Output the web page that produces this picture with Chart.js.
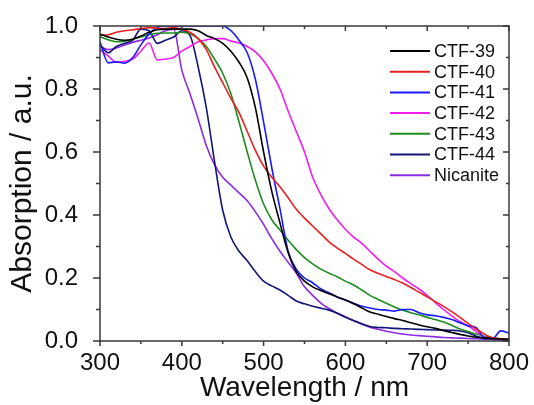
<!DOCTYPE html>
<html>
<head>
<meta charset="utf-8">
<script src="https://cdn.jsdelivr.net/npm/chart.js@4.4.1/dist/chart.umd.min.js"></script>
<style>
  html, body { margin: 0; padding: 0; background: #fff; }
  #wrap { width: 534px; height: 405px; }
</style>
</head>
<body>
<div id="wrap"><canvas id="absChart" width="534" height="405"></canvas></div>
<script>
// Wavelength grid (nm) shared by all spectra
const wavelength = [
    300, 310, 320, 330, 340, 350, 360, 370, 380, 390,
    400, 410, 420, 430, 440, 450, 460, 470, 480, 490,
    500, 510, 520, 530, 540, 550, 560, 570, 580, 590,
    600, 610, 620, 630, 640, 650, 660, 670, 680, 690,
    700, 710, 720, 730, 740, 750, 760, 770, 780, 790,
    800
];

// Absorption values
const ctf39 = [
    0.975, 0.965, 0.958, 0.955, 0.958, 0.968, 0.980, 0.988, 0.990, 0.990,
    0.990, 0.990, 0.985, 0.970, 0.960, 0.945, 0.920, 0.885, 0.835, 0.740,
    0.600, 0.475, 0.375, 0.280, 0.220, 0.190, 0.172, 0.160, 0.150, 0.140,
    0.130, 0.118, 0.105, 0.092, 0.085, 0.078, 0.071, 0.065, 0.058, 0.051,
    0.045, 0.040, 0.033, 0.027, 0.021, 0.016, 0.012, 0.010, 0.008, 0.006,
    0.005
];
const ctf40 = [
    0.970, 0.972, 0.980, 0.985, 0.988, 0.992, 0.995, 0.993, 0.992, 0.995,
    0.990, 0.980, 0.960, 0.925, 0.870, 0.820, 0.770, 0.725, 0.665, 0.605,
    0.555, 0.520, 0.490, 0.455, 0.418, 0.390, 0.365, 0.340, 0.315, 0.295,
    0.278, 0.260, 0.243, 0.226, 0.215, 0.205, 0.195, 0.184, 0.170, 0.155,
    0.140, 0.125, 0.110, 0.093, 0.075, 0.056, 0.038, 0.022, 0.010, 0.007,
    0.005
];
const ctf41 = [
    0.950, 0.883, 0.886, 0.882, 0.900, 0.940, 0.975, 0.995, 1.000, 1.000,
    1.000, 1.000, 1.000, 1.000, 1.000, 1.000, 0.985, 0.955, 0.915, 0.830,
    0.695, 0.550, 0.420, 0.285, 0.228, 0.200, 0.185, 0.165, 0.153, 0.140,
    0.130, 0.120, 0.110, 0.105, 0.100, 0.098, 0.095, 0.100, 0.100, 0.090,
    0.083, 0.080, 0.075, 0.068, 0.058, 0.048, 0.042, 0.010, 0.008, 0.032,
    0.025
];
const ctf42 = [
    0.925, 0.905, 0.885, 0.888, 0.895, 0.920, 0.946, 0.892, 0.895, 0.900,
    0.920, 0.935, 0.950, 0.956, 0.960, 0.960, 0.952, 0.946, 0.935, 0.918,
    0.890, 0.850, 0.800, 0.730, 0.665, 0.600, 0.520, 0.465, 0.420, 0.385,
    0.355, 0.330, 0.310, 0.285, 0.260, 0.238, 0.220, 0.200, 0.182, 0.165,
    0.145, 0.122, 0.100, 0.080, 0.062, 0.048, 0.030, 0.013, 0.008, 0.006,
    0.005
];
const ctf43 = [
    0.966, 0.956, 0.950, 0.952, 0.958, 0.965, 0.972, 0.977, 0.978, 0.978,
    0.980, 0.975, 0.960, 0.935, 0.895, 0.850, 0.785, 0.695, 0.600, 0.510,
    0.435, 0.385, 0.352, 0.320, 0.290, 0.265, 0.245, 0.228, 0.215, 0.204,
    0.190, 0.178, 0.162, 0.145, 0.132, 0.120, 0.108, 0.098, 0.090, 0.083,
    0.075, 0.068, 0.060, 0.050, 0.038, 0.030, 0.022, 0.015, 0.010, 0.007,
    0.005
];
const ctf44 = [
    0.940, 0.915, 0.935, 0.945, 0.955, 0.990, 0.985, 0.945, 0.955, 0.965,
    0.985, 0.970, 0.870, 0.740, 0.570, 0.415, 0.330, 0.285, 0.255, 0.220,
    0.190, 0.175, 0.162, 0.145, 0.127, 0.118, 0.110, 0.104, 0.098, 0.088,
    0.075, 0.065, 0.055, 0.046, 0.043, 0.042, 0.040, 0.039, 0.038, 0.037,
    0.036, 0.035, 0.035, 0.034, 0.032, 0.026, 0.015, 0.008, 0.006, 0.005,
    0.004
];
const nicanite = [
    0.935, 0.925, 0.930, 0.940, 0.948, 0.955, 0.962, 0.972, 0.985, 0.990,
    0.860, 0.785, 0.705, 0.620, 0.560, 0.520, 0.495, 0.470, 0.445, 0.410,
    0.370, 0.325, 0.285, 0.250, 0.215, 0.172, 0.145, 0.120, 0.103, 0.088,
    0.077, 0.064, 0.053, 0.044, 0.037, 0.031, 0.026, 0.022, 0.019, 0.017,
    0.015, 0.013, 0.011, 0.010, 0.009, 0.008, 0.007, 0.006, 0.005, 0.004,
    0.003
];

const seriesLabels = ['CTF-39', 'CTF-40', 'CTF-41', 'CTF-42', 'CTF-43', 'CTF-44', 'Nicanite'];
const seriesValues = [ctf39, ctf40, ctf41, ctf42, ctf43, ctf44, nicanite];
const seriesColors = ['#000000', '#e82020', '#1a1aff', '#f01ef0', '#1e8c1e', '#141478', '#8a2be2'];

// Axis ticks
const xTicks = [300, 400, 500, 600, 700, 800];
const xMinorTicks = [350, 450, 550, 650, 750];
const yTicks = [0.0, 0.2, 0.4, 0.6, 0.8, 1.0];
const yMinorTicks = [0.1, 0.3, 0.5, 0.7, 0.9];

const FONT = "'Liberation Sans', Arial, sans-serif";
const AXIS_COLOR = '#3a3a3a';

// Draws the box frame, Origin-style ticks and the inset legend
const frameAndLegend = {
    id: 'frameAndLegend',
    afterDraw(chart) {
        const { ctx, chartArea: a, scales: { x, y } } = chart;
        ctx.save();
        ctx.strokeStyle = AXIS_COLOR;
        ctx.lineWidth = 1.5;
        ctx.strokeRect(a.left, a.top, a.right - a.left, a.bottom - a.top);

        ctx.beginPath();
        const xTick = (v, len, inLen) => {
            const px = x.getPixelForValue(v);
            ctx.moveTo(px, a.bottom); ctx.lineTo(px, a.bottom + len);   // bottom, outward
            ctx.moveTo(px, a.top); ctx.lineTo(px, a.top + inLen);       // top, inward
        };
        const yTick = (v, len, inLen) => {
            const py = y.getPixelForValue(v);
            ctx.moveTo(a.left, py); ctx.lineTo(a.left - len, py);       // left, outward
            ctx.moveTo(a.right, py); ctx.lineTo(a.right - inLen, py);   // right, inward
        };
        xTicks.forEach(v => xTick(v, 5, 5));
        xMinorTicks.forEach(v => xTick(v, 3, 3));
        yTicks.forEach(v => yTick(v, 7, 6));
        yMinorTicks.forEach(v => yTick(v, 4, 3));
        ctx.stroke();

        // Legend inside the plot, top right
        ctx.font = '18px ' + FONT;
        ctx.textBaseline = 'middle';
        ctx.textAlign = 'left';
        chart.data.datasets.forEach((ds, i) => {
            const yy = a.top + 25 + i * 20.7;
            ctx.strokeStyle = ds.borderColor;
            ctx.lineWidth = 2;
            ctx.beginPath();
            ctx.moveTo(a.right - 119, yy);
            ctx.lineTo(a.right - 79, yy);
            ctx.stroke();
            ctx.fillStyle = '#111';
            ctx.fillText(ds.label, a.right - 75, yy + 1);
        });
        ctx.restore();
    }
};

const datasets = seriesLabels.map((label, i) => ({
    label: label,
    data: wavelength.map((w, j) => ({ x: w, y: seriesValues[i][j] })),
    borderColor: seriesColors[i],
    borderWidth: 1.6,
    pointRadius: 0,
    fill: false,
    cubicInterpolationMode: 'monotone'
}));

const ctx = document.getElementById('absChart').getContext('2d');
const absChart = new Chart(ctx, {
    type: 'line',
    data: { datasets: datasets },
    options: {
        responsive: false,
        animation: false,
        layout: { padding: { top: 26, right: 25, left: 0, bottom: 0 } },
        plugins: {
            legend: { display: false },
            tooltip: { enabled: false }
        },
        scales: {
            x: {
                type: 'linear',
                min: 300,
                max: 800,
                afterBuildTicks: scale => { scale.ticks = xTicks.map(v => ({ value: v })); },
                afterFit: scale => {
                    scale.height = 64;
                    scale.paddingLeft = 0;
                    scale.paddingRight = 0;
                },
                grid: { display: false, drawTicks: false },
                border: { display: false },
                ticks: {
                    padding: 8,
                    maxRotation: 0,
                    color: '#111',
                    font: { family: FONT, size: 24 }
                },
                title: {
                    display: true,
                    text: 'Wavelength / nm',
                    color: '#111',
                    padding: { top: 0, bottom: 0 },
                    font: { family: FONT, size: 28 }
                }
            },
            y: {
                min: 0,
                max: 1,
                afterBuildTicks: scale => { scale.ticks = yTicks.map(v => ({ value: v })); },
                afterFit: scale => {
                    scale.width = 100;
                    scale.paddingTop = 0;
                    scale.paddingBottom = 0;
                },
                grid: { display: false, drawTicks: false },
                border: { display: false },
                ticks: {
                    padding: 22,
                    color: '#111',
                    font: { family: FONT, size: 24 },
                    callback: value => value.toFixed(1)
                },
                title: {
                    display: true,
                    text: 'Absorption / a.u.',
                    color: '#111',
                    padding: { top: 5, bottom: 0 },
                    font: { family: FONT, size: 30 }
                }
            }
        }
    },
    plugins: [frameAndLegend]
});
</script>
</body>
</html>
